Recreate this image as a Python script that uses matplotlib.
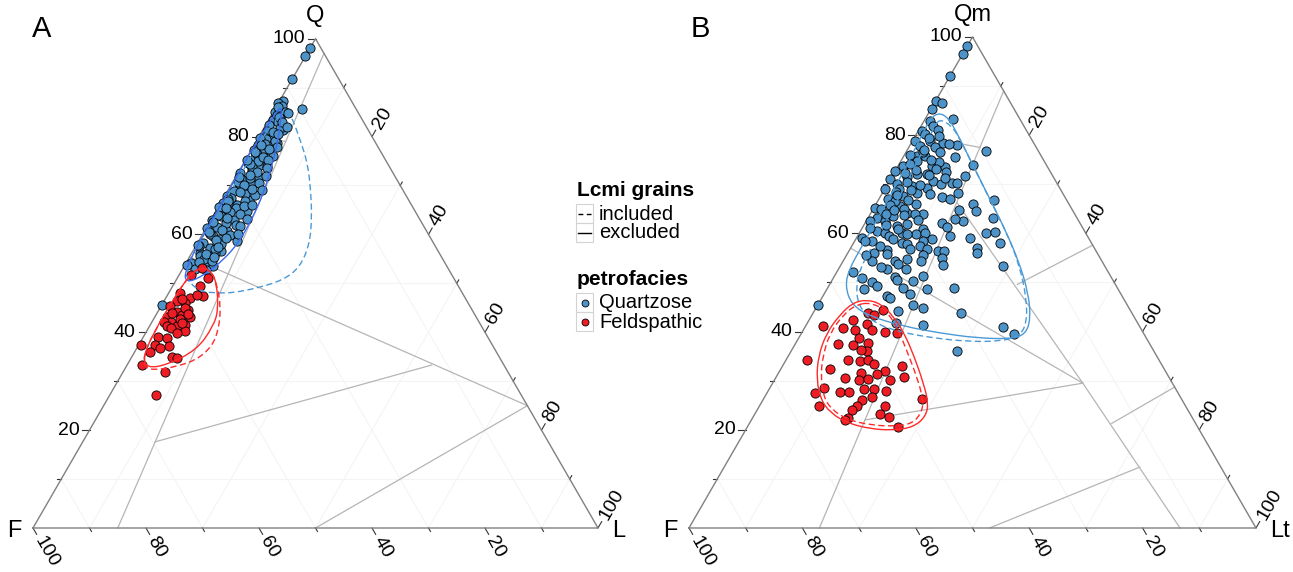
import numpy as np
import matplotlib
matplotlib.use('Agg')
import matplotlib.pyplot as plt
from matplotlib.path import Path
from matplotlib.patches import PathPatch, Rectangle
from matplotlib.lines import Line2D

plt.rcParams['font.family'] = ['Liberation Sans', 'DejaVu Sans']

# ---------------- data (percent, F = 100 - Q - L) ----------------
# panel A: QFL, quartzose petrofacies
a_qz_Q = [98.1, 96.4, 91.8, 85.7, 87.2, 86.8, 86.2, 85.1, 85.1, 83.8, 83.4, 81.4, 82.4, 81.1,
          80.0, 80.0, 78.7, 78.0, 78.3, 77.3, 77.0, 76.0, 75.6, 74.6, 74.2, 73.2, 72.5, 71.2,
          71.9, 70.1, 69.8, 68.8, 67.1, 67.8, 66.4, 66.1, 66.4, 65.7, 65.0, 63.7, 63.0, 63.0,
          61.6, 60.6, 61.3, 59.6, 58.6, 58.2, 57.2, 56.7, 56.2, 56.2, 54.1, 54.0, 53.6, 55.5,
          45.5, 84.5, 82.9, 79.5, 79.0, 76.5, 75.0, 73.8, 72.8, 71.5, 70.8, 69.5, 68.2, 67.5,
          66.9, 65.3, 64.5, 64.0, 62.4, 62.0, 60.1, 59.0, 58.0, 57.6, 55.0, 53.0, 81.8, 77.8,
          74.0, 70.5, 68.0, 64.8, 61.8, 59.8, 57.0, 54.6,
          86.0, 84.0, 83.0, 81.0, 80.5, 79.8, 78.5, 77.5, 76.8, 75.8, 75.2, 74.4, 73.5, 72.2,
          71.8, 70.2, 69.2, 68.6, 67.3, 66.8, 65.8, 65.4, 64.2, 63.4, 62.6, 61.0, 60.4, 59.2,
          58.8, 57.9, 57.4, 56.0, 55.3, 54.4, 53.8, 52.8, 84.8, 82.0, 78.2, 75.3, 72.0, 69.0,
          66.0, 63.2, 60.0]
a_qz_L = [0.0, 0.0, 0.0, 4.8, 0.7, 0.0, 0.9, 2.1, 0.3, 1.8, 0.8, 3.6, 0.5, 0.8,
          2.5, 0.8, 3.8, 2.9, 0.7, 0.4, 2.3, 4.5, 1.5, 0.8, 3.1, 2.1, 0.4, 1.6,
          3.9, 3.7, 1.7, 1.1, 4.6, 0.4, 2.0, 3.0, 0.5, 0.0, 2.1, 1.5, 4.0, 0.1,
          1.7, 4.0, 0.1, 2.1, 6.8, 1.0, 2.7, 5.0, 1.5, 4.1, 1.0, 3.4, 5.1, 1.8,
          0.0, 1.0, 2.0, 1.5, 3.3, 1.4, 2.4, 1.9, 3.2, 2.6, 0.9, 2.8, 3.5, 1.3,
          4.0, 3.2, 2.6, 0.8, 3.0, 5.0, 1.2, 3.5, 4.2, 0.5, 2.8, 2.2, 2.8, 4.2,
          4.5, 4.8, 5.3, 5.5, 5.8, 4.9, 3.8, 4.3,
          0.4, 1.5, 2.6, 1.9, 3.2, 0.3, 1.8, 3.0, 0.9, 2.8, 4.0, 1.2, 4.6, 2.3,
          0.6, 2.2, 4.2, 2.4, 0.9, 1.2, 4.4, 1.4, 4.5, 2.6, 0.6, 2.9, 0.9, 4.5,
          3.0, 0.2, 4.0, 2.6, 4.4, 2.2, 0.4, 4.2, 2.8, 4.0, 1.2, 0.3, 5.2, 6.0,
          5.8, 6.2, 6.2]
# panel A: feldspathic petrofacies
a_fs_Q = [53.1, 51.7, 51.1, 49.4, 48.0, 47.0, 47.5, 47.7, 46.3, 46.0, 45.3, 44.6, 44.2, 43.2,
          43.6, 43.2, 42.2, 41.5, 42.2, 41.2, 41.2, 40.2, 39.1, 37.4, 38.8, 37.4, 35.9, 37.2,
          36.7, 34.9, 34.7, 33.3, 31.8, 27.2, 45.0, 43.8, 42.8, 41.8, 40.8, 44.0, 46.8, 39.8]
a_fs_L = [3.3, 2.2, 5.5, 4.9, 2.0, 4.3, 6.4, 5.1, 2.3, 3.9, 1.6, 5.2, 3.3, 2.1,
          4.5, 6.2, 3.4, 6.2, 2.0, 4.8, 3.1, 6.8, 2.6, 2.9, 4.3, 0.5, 2.8, 5.4,
          4.1, 7.1, 8.1, 2.7, 7.5, 8.1, 4.4, 5.6, 4.6, 5.5, 4.0, 2.6, 3.0, 5.5]

# panel B: QmFLt, quartzose petrofacies
b_qz_Qm = [98.2, 96.5, 92.0, 87.0, 86.5, 85.3, 83.3, 82.9, 81.9, 80.9, 80.2, 78.9, 78.9, 78.5,
           78.0, 77.7, 77.5, 76.8, 75.8, 75.8, 76.5, 75.5, 73.8, 73.8, 73.6, 74.0, 72.7, 72.0,
           72.0, 71.7, 71.4, 71.0, 70.7, 70.3, 70.0, 70.3, 69.3, 69.7, 69.0, 68.2, 67.4, 66.9,
           67.6, 68.3, 67.1, 65.2, 65.6, 64.2, 64.9, 65.9, 64.6, 64.7, 63.9, 63.9, 63.5, 63.2,
           63.2, 62.2, 62.5, 62.9, 62.5, 62.5, 61.5, 61.3, 60.1, 60.3, 60.8, 59.8, 60.1, 59.5,
           59.1, 59.1, 60.5, 60.1, 58.8, 58.0, 58.4, 58.1, 58.4, 57.1, 56.1, 56.6, 56.1, 57.4,
           56.4, 56.4, 56.9, 55.0, 55.7, 54.4, 54.4, 54.4, 52.7, 52.7, 53.2, 53.5, 53.3, 52.1,
           51.2, 51.4, 50.1, 49.3, 50.3, 48.7, 48.9, 48.6, 48.9, 47.6, 47.2, 46.9, 45.5, 45.5,
           43.8, 44.8, 44.2, 41.4, 41.8, 40.9, 39.6, 36.0,
           79.5, 76.0, 74.8, 73.0, 71.8, 70.5, 69.0, 68.0, 66.5, 66.0, 65.0, 64.0, 62.0, 61.0,
           60.0, 59.5, 58.5, 57.5, 55.5, 76.5, 74.5, 72.5, 70.0, 68.5, 67.0,
           81.0, 79.8, 78.2, 77.0, 75.0, 74.2, 73.2, 72.2, 71.2, 69.8, 68.8, 67.8, 66.8, 65.8,
           64.8, 63.8, 62.8, 61.8, 60.8, 59.8, 58.8, 57.8, 56.8, 55.8, 54.8, 53.8, 51.0, 50.5]
b_qz_Lt = [0.0, 0.0, 0.0, 0.0, 1.3, 0.2, 4.85, 1.05, 2.1, 0.6, 1.5, 0.4, 3.05, 5.6,
           8.2, 1.9, 4.6, 13.9, 3.7, 2.25, 6.0, 9.2, 0.9, 5.9, 8.35, 13.1, 0.0, 4.15,
           5.9, 12.8, 2.7, 0.0, 7.7, 11.2, 1.6, 12.1, 7.3, 4.4, 0.1, 13.4, 10.9, 20.4,
           4.0, 6.0, 1.6, 0.2, 4.4, 6.3, 1.5, 17.2, 18.3, 15.2, 9.4, 7.9, 4.3, 1.5,
           22.1, 13.5, 17.1, 15.5, 0.7, 3.3, 5.9, 14.8, 22.4, 23.8, 10.9, 10.1, 11.5, 16.3,
           20.0, 0.9, 2.85, 4.6, 13.4, 25.85, 3.0, 8.45, 12.1, 22.2, 22.7, 6.6, 4.5, 12.0,
           15.8, 16.7, 13.5, 17.1, 13.5, 5.0, 9.1, 13.8, 12.0, 8.5, 7.2, 18.1, 28.7, 2.9,
           10.7, 15.6, 7.3, 8.45, 14.4, 17.6, 22.3, 6.6, 13.35, 15.2, 11.3, 12.0, 16.8, 0.06,
           26.1, 18.9, 14.8, 20.6, 15.6, 34.9, 37.5, 29.3,
           2.5, 1.0, 2.8, 3.5, 6.5, 3.2, 2.5, 8.5, 3.0, 7.0, 5.5, 2.8, 7.5, 1.5,
           7.5, 5.5, 1.8, 5.0, 3.5, 3.0, 6.8, 9.0, 9.5, 2.2, 12.5,
           3.5, 4.2, 6.8, 3.0, 5.2, 1.8, 7.0, 2.0, 9.5, 5.8, 4.8, 2.8, 5.2, 2.5,
           3.8, 6.0, 9.0, 3.8, 6.5, 8.5, 6.5, 9.5, 10.5, 7.0, 11.0, 10.0, 5.0, 11.5]
# panel B: feldspathic petrofacies
b_fs_Qm = [44.4, 43.8, 43.3, 41.2, 42.3, 40.7, 40.3, 41.6, 40.3, 39.9, 39.7, 38.7, 37.4, 37.2,
           37.7, 36.0, 36.2, 34.2, 34.3, 34.0, 34.2, 33.5, 32.9, 32.4, 31.9, 31.6, 31.4, 30.8,
           30.6, 30.2, 30.4, 30.2, 28.5, 27.7, 27.7, 28.4, 28.3, 28.0, 27.5, 26.1, 26.7, 24.8,
           24.8, 26.3, 24.8, 24.0, 23.3, 22.6, 22.4, 22.0, 20.6]
b_fs_Lt = [12.1, 9.7, 10.9, 3.0, 7.8, 6.75, 9.1, 10.65, 12.2, 14.6, 16.8, 10.7, 7.5, 10.4,
           12.8, 13.45, 12.3, 3.65, 10.95, 13.2, 14.5, 15.9, 21.2, 8.7, 18.6, 14.5, 17.4, 22.5,
           12.2, 14.8, 16.3, 20.35, 9.55, 12.8, 14.3, 16.7, 18.4, 20.7, 8.5, 17.4, 18.9, 17.2,
           10.6, 27.9, 22.2, 16.7, 22.0, 24.0, 16.9, 16.5, 26.6]

# density contours (Q, L)
a_qz_incl_Q = [85.8, 83.4, 79.35, 74.6, 69.1, 63.7, 58.2, 53.4, 50.7, 49.0, 48.1, 48.0, 48.3,
               50.7, 53.4, 57.5, 63.0, 69.8, 76.6, 82.1]
a_qz_incl_L = [2.0, 4.3, 7.6, 11.3, 14.6, 17.5, 19.9, 20.6, 19.0, 15.1, 11.4, 9.1, 5.4,
               1.9, 0.6, 0.2, 0.4, 0.6, 0.7, 0.9]
a_qz_excl_Q = [86.5, 82.1, 78.0, 73.9, 68.4, 63.0, 58.2, 54.8, 52.1, 50.4, 50.7, 52.8, 56.2,
               61.0, 65.7, 71.2, 75.9, 80.0, 84.1]
a_qz_excl_L = [0.8, 2.7, 4.1, 5.3, 6.6, 7.2, 7.2, 6.3, 4.7, 2.9, 1.5, 0.7, 0.3,
               0.2, 0.25, 0.1, 0.1, 0.2, 0.5]
a_fs_incl_Q = [53.4, 52.4, 50.0, 45.3, 40.5, 37.1, 34.4, 33.0, 32.3, 32.7, 35.0, 39.8, 46.6, 51.4]
a_fs_incl_L = [2.9, 5.4, 7.5, 10.6, 12.6, 13.1, 11.8, 8.9, 5.7, 3.5, 2.0, 1.4, 1.5, 1.8]
a_fs_excl_Q = [53.4, 52.4, 50.0, 44.6, 41.2, 36.4, 33.3, 32.7, 35.0, 39.8, 46.6, 51.4]
a_fs_excl_L = [3.15, 5.4, 7.5, 10.5, 11.3, 10.8, 7.0, 3.8, 2.0, 1.4, 1.5, 1.8]

b_qz_incl_Q = [83.3, 81.9, 79.2, 73.7, 66.9, 60.1, 53.3, 46.5, 41.8, 39.1, 38.0, 38.0, 38.7,
               39.9, 41.8, 45.2, 49.3, 52.7, 56.7, 61.5, 67.6, 73.7, 78.5, 81.9]
b_qz_incl_L = [2.6, 5.4, 8.2, 13.3, 19.6, 26.0, 31.7, 36.3, 38.65, 38.8, 35.85, 30.0, 23.7,
               17.3, 11.6, 7.3, 4.8, 3.8, 3.6, 3.5, 3.4, 3.0, 2.7, 2.4]
b_qz_excl_Q = [84.6, 83.6, 80.6, 75.1, 68.3, 61.5, 54.7, 47.9, 42.5, 39.4, 38.5, 38.7, 39.7,
               41.1, 43.1, 45.5, 49.3, 52.7, 56.7, 61.5, 67.6, 73.7, 79.2, 83.3]
b_qz_excl_L = [1.7, 3.9, 6.9, 12.0, 18.35, 24.7, 30.7, 35.9, 39.0, 39.6, 37.4, 31.4, 24.4,
               17.25, 10.4, 5.9, 2.9, 1.9, 1.8, 1.8, 1.65, 1.5, 1.1, 0.85]
b_fs_incl_Q = [45.9, 44.5, 41.1, 36.3, 30.9, 26.1, 23.4, 21.2, 20.7, 21.0, 22.0, 24.1, 26.8,
               30.9, 35.0, 39.7, 43.5, 45.5]
b_fs_incl_L = [9.0, 12.3, 16.1, 20.2, 24.7, 28.3, 29.3, 28.7, 25.7, 21.4, 17.1, 13.1, 10.3,
               7.8, 6.1, 5.0, 5.5, 6.8]
b_fs_excl_Q = [46.5, 45.7, 43.1, 39.7, 35.0, 29.5, 25.45, 22.7, 20.55, 19.9, 20.2, 21.4, 23.4,
               26.1, 30.2, 35.0, 39.7, 43.5, 45.9]
b_fs_excl_L = [8.1, 10.95, 14.5, 18.1, 22.2, 26.6, 29.5, 30.4, 29.3, 26.1, 21.8, 17.2, 13.3,
               10.2, 7.4, 5.3, 4.4, 4.9, 6.0]

# provenance field boundaries, each ((Q1, L1), (Q2, L2))
a_fields = [((97, 3), (0, 15)), ((80, 0), (79, 5.2)), ((55.4, 0), (25, 75)),
            ((17.6, 12.8), (33.3, 53.9)), ((25, 75), (0, 50))]
b_fields = [((89, 11), (0, 23)), ((80, 0), (77.5, 12.6)), ((66.3, 14.1), (29.5, 54.7)),
            ((57, 0), (29.5, 54.7)), ((22, 20), (29.5, 54.7)), ((29.5, 54.7), (0, 86.6)),
            ((57.6, 42.4), (49.6, 33.1)), ((28.7, 71.3), (21.3, 63.9)), ((0, 53), (12.4, 73.3))]

tick_values = [20, 40, 60, 80, 100]

BLUE = '#4D93C8'
RED = '#EE1C25'
S3 = np.sqrt(3) / 2


def tern(q, l):
    q = np.asarray(q, float)
    l = np.asarray(l, float)
    return l + q / 2, q * S3


def contour(ax, q, l, color, ls):
    x, y = tern(q, l)
    pts = np.column_stack([x, y])
    mids = (pts + np.roll(pts, -1, axis=0)) / 2
    verts = [mids[-1]]
    codes = [Path.MOVETO]
    for i in range(len(pts)):
        verts += [pts[i], mids[i]]
        codes += [Path.CURVE3, Path.CURVE3]
    ax.add_patch(PathPatch(Path(verts, codes), fill=False, edgecolor=color,
                           lw=1.0, linestyle=ls, zorder=5))


def base_triangle(ax, fields, labels):
    ax.set_xlim(0, 100)
    ax.set_ylim(0, 100 * S3)
    ax.axis('off')
    # faint grid
    for v in (10, 30, 50, 70, 90):
        for (q1, l1), (q2, l2) in [((v, 0), (v, 100 - v)), ((0, v), (100 - v, v)),
                                   ((0, 100 - v), (100 - v, 0))]:
            x, y = tern([q1, q2], [l1, l2])
            ax.plot(x, y, color='#F4F4F4', lw=0.8, zorder=1, clip_on=False)
    for (q1, l1), (q2, l2) in fields:
        x, y = tern([q1, q2], [l1, l2])
        ax.plot(x, y, color='#B5B5B5', lw=0.9, zorder=2, clip_on=False)
    x, y = tern([0, 100, 0, 0], [0, 0, 100, 0])
    ax.plot(x, y, color='#808080', lw=1.0, zorder=3, clip_on=False)
    # ticks
    for v in range(10, 101, 10):
        ln = 1.3 if v % 20 == 0 else 0.7
        x0, y0 = tern(v, 0)
        ax.plot([x0, x0 - ln], [y0, y0], color='#333333', lw=0.8, clip_on=False)
        x1, y1 = tern(0, 100 - v)
        ax.plot([x1, x1 + 0.5 * ln], [y1, y1 - S3 * ln], color='#333333', lw=0.8, clip_on=False)
        x2, y2 = tern(100 - v, v)
        ax.plot([x2, x2 + 0.5 * ln], [y2, y2 + S3 * ln], color='#333333', lw=0.8, clip_on=False)
    for v in tick_values:
        x0, y0 = tern(v, 0)
        ax.text(x0 - 1.8, y0, str(v), ha='right', va='center', fontsize=14)
        x1, y1 = tern(0, 100 - v)
        ax.text(x1 + 0.5 * 1.9, y1 - S3 * 1.9, str(v), rotation=-60, rotation_mode='anchor',
                ha='left', va='center', fontsize=14)
        x2, y2 = tern(100 - v, v)
        ax.text(x2 + 0.5 * 1.9, y2 + S3 * 1.9, str(v), rotation=60, rotation_mode='anchor',
                ha='left', va='center', fontsize=14)
    top, left, right = labels
    ax.text(50, 100 * S3 + 2.0, top, ha='center', va='bottom', fontsize=17)
    ax.text(-2.0, -0.5, left, ha='right', va='center', fontsize=17)
    ax.text(102.5, -0.5, right, ha='left', va='center', fontsize=17)


fig = plt.figure(figsize=(12.93, 5.72), dpi=100)
axA = fig.add_axes([33 / 1293, 44 / 572, 565 / 1293, 489.3 / 572])
axB = fig.add_axes([689 / 1293, 44 / 572, 567 / 1293, 491 / 572])

base_triangle(axA, a_fields, ('Q', 'F', 'L'))
base_triangle(axB, b_fields, ('Qm', 'F', 'Lt'))

for ax, qz, fs in [(axA, (a_qz_Q, a_qz_L), (a_fs_Q, a_fs_L)),
                   (axB, (b_qz_Qm, b_qz_Lt), (b_fs_Qm, b_fs_Lt))]:
    x, y = tern(*qz)
    ax.scatter(x, y, s=44, c=BLUE, edgecolors='black', linewidths=0.6, zorder=4, clip_on=False)
    x, y = tern(*fs)
    ax.scatter(x, y, s=44, c=RED, edgecolors='black', linewidths=0.6, zorder=4, clip_on=False)

DASH = (0, (4.5, 2.5))
contour(axA, a_qz_incl_Q, a_qz_incl_L, '#4A9AD6', DASH)
contour(axA, a_qz_excl_Q, a_qz_excl_L, '#3D6BF2', '-')
contour(axA, a_fs_incl_Q, a_fs_incl_L, '#FF2A2A', DASH)
contour(axA, a_fs_excl_Q, a_fs_excl_L, '#FF2A2A', '-')
contour(axB, b_qz_incl_Q, b_qz_incl_L, '#4A9AD6', DASH)
contour(axB, b_qz_excl_Q, b_qz_excl_L, '#4A9AD6', '-')
contour(axB, b_fs_incl_Q, b_fs_incl_L, '#FF2A2A', DASH)
contour(axB, b_fs_excl_Q, b_fs_excl_L, '#FF2A2A', '-')

# overlay in pixel units for panel letters and legend
ov = fig.add_axes([0, 0, 1, 1], zorder=10)
ov.set_xlim(0, 1293)
ov.set_ylim(572, 0)
ov.axis('off')
ov.text(42, 29, 'A', ha='center', va='center', fontsize=21)
ov.text(700, 29, 'B', ha='center', va='center', fontsize=21)

ov.text(577, 196, 'Lcmi grains', fontsize=15, fontweight='bold', va='baseline')
for i, (lab, ls) in enumerate([('included', (0, (3.5, 2.5))), ('excluded', '-')]):
    y0 = 204 + 19 * i
    ov.add_patch(Rectangle((576, y0), 17, 19, fill=False, edgecolor='#D3D3D3', lw=0.8))
    ov.add_line(Line2D([578, 591], [y0 + 9.5, y0 + 9.5], color='black', lw=1.0, linestyle=ls))
    ov.text(599, y0 + 10, lab, fontsize=14.5, va='center')

ov.text(577, 285, 'petrofacies', fontsize=15, fontweight='bold', va='baseline')
for i, (lab, col) in enumerate([('Quartzose', BLUE), ('Feldspathic', RED)]):
    y0 = 293 + 19 * i
    ov.add_patch(Rectangle((576, y0), 17, 19, fill=False, edgecolor='#D3D3D3', lw=0.8))
    ov.plot([585], [y0 + 9.5], 'o', ms=5, mfc=col, mec='black', mew=0.6)
    ov.text(599, y0 + 10, lab, fontsize=14.5, va='center')

fig.savefig('out.png', dpi=100)
